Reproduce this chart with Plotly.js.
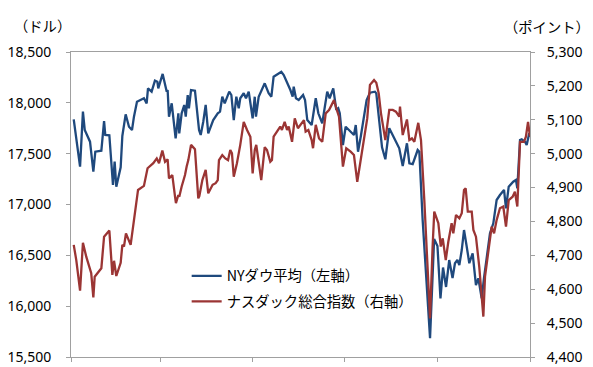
<!DOCTYPE html>
<html><head><meta charset="utf-8">
<script src="https://cdn.plot.ly/plotly-3.0.1.min.js"></script>
<style>html,body{margin:0;padding:0;background:#fff}#chart{width:593px;height:367px}</style>
</head><body><div id="chart"></div><script>
// Days elapsed since 2015-01-01 for each reading
const dowDays = [1.8,6.0,7.9,9.1,12.6,14.8,16.1,20.1,21.9,22.7,25.4,27.8,28.9,30.0,32.9,34.0,36.2,38.4,40.4,41.7,43.7,48.3,50.1,51.0,53.4,55.6,57.2,57.8,60.7,62.3,63.4,64.0,64.9,66.7,67.8,69.3,70.2,71.1,71.7,73.3,75.0,76.0,77.3,78.1,79.5,82.1,84.8,85.9,87.6,89.2,90.9,94.2,97.2,98.7,100.2,101.8,104.8,106.2,107.8,109.5,111.1,112.1,114.4,115.9,117.7,118.7,120.3,121.7,122.5,124.3,126.0,128.3,130.9,132.7,134.2,137.1,139.3,140.9,143.1,145.3,146.8,147.5,149.0,150.8,153.7,155.0,156.5,159.4,162.1,163.8,166.4,169.7,171.3,173.7,175.7,177.0,178.0,180.1,181.9,185.2,187.4,188.6,190.1,191.9,193.6,195.8,198.0,201.3,202.2,203.9,206.0,208.2,210.8,214.1,217.4,219.7,222.5,224.1,226.3,229.6,230.7,232.9,235.1,237.8,240.5,242.7,244.7,246.4,248.4,250.5,252.7,254.3,255.9,257.2,258.8,260.3,262.1,263.8,266.0,268.2,269.8,272.0,273.5,275.3,277.5,279.7,281.9,284.1,286.8,288.1,289.9,292.9,294.7,295.6,297.4,298.5,300.7,301.8,303.5,304.0];
const dowValues = [17838,17372,17913,17733,17618,17323,17519,17529,17821,17684,17681,17192,17421,17175,17366,17674,17887,17765,17733,17864,18011,18045,17995,18143,18110,18218,18208,18143,18284,18175,18110,18126,17864,17995,17831,17651,17765,17897,17700,17897,17979,17864,18077,17946,18126,18120,17733,17684,17814,17979,17700,17831,17897,17913,18060,17995,18110,18077,17831,18060,17946,18045,18094,18045,18110,18011,17848,18060,17864,18060,18110,18192,18094,18060,18257,18290,18306,18274,18208,18126,18060,18159,18045,18028,18077,18028,17831,17782,18045,17897,17799,18110,18045,18143,17930,17946,17897,17585,17765,17716,17684,17782,17519,17667,17831,18028,18100,18110,18093,17831,17563,17445,17750,17651,17553,17379,17602,17405,17398,17536,17519,16848,16290,15684,16661,16592,16077,16380,16189,16454,16277,16422,16454,16405,16552,16749,16585,16422,16520,16208,16274,16077,16274,16487,16717,16815,17044,17093,17143,16963,17175,17224,17241,17159,17634,17641,17618,17585,17700,17667];
const nasdaqDays = [1.8,3.5,6.0,7.9,10.1,12.6,13.4,14.8,15.7,20.1,21.9,25.4,27.4,28.5,30.0,32.9,34.0,35.1,36.4,39.5,41.7,44.4,48.3,50.7,54.5,56.8,58.3,60.5,62.3,64.0,64.9,67.1,68.9,69.5,71.1,71.7,73.3,75.5,76.6,77.7,79.5,82.1,84.3,85.0,87.0,89.2,90.9,93.8,95.8,97.2,98.0,100.2,102.2,104.0,105.5,106.6,107.8,109.9,112.1,114.4,116.6,118.8,120.3,121.7,122.7,124.3,126.0,128.3,129.8,132.0,133.1,134.2,136.4,138.6,139.7,141.5,143.1,144.2,146.4,148.2,150.3,154.3,155.4,157.2,159.4,160.3,162.1,164.3,166.4,168.7,170.9,172.7,174.2,175.7,177.5,180.1,182.3,185.2,187.4,189.6,191.9,194.1,196.2,198.0,200.7,202.2,203.8,205.3,208.2,210.8,213.1,215.2,217.4,217.9,219.7,222.5,224.1,225.8,227.4,230.0,231.8,234.0,236.2,237.8,239.5,240.6,243.3,244.9,246.2,248.2,249.9,252.1,253.2,255.0,257.2,258.8,260.3,261.4,262.8,265.4,266.5,268.2,270.4,273.1,274.2,276.4,278.6,280.2,281.9,284.1,286.3,288.1,289.9,292.5,294.0,295.6,297.4,300.0,301.3,302.7,304.0];
const nasdaqValues = [4731,4686,4596,4737,4696,4662,4647,4576,4637,4662,4755,4773,4642,4684,4639,4678,4731,4726,4765,4731,4799,4893,4905,4957,4972,4986,4972,5009,4976,4983,4927,4937,4873,4854,4878,4873,4903,4937,4962,4981,5026,5013,4868,4875,4922,4952,4883,4908,4913,4922,4981,4996,4986,4981,5011,5001,4932,4972,5026,5094,5070,5050,4942,5011,5026,4967,4922,5019,5011,4976,4981,5050,5065,5080,5070,5094,5070,5080,5035,5104,5075,5099,5065,5070,5040,5016,5085,5045,5035,5119,5129,5144,5158,5134,5109,4962,5016,5006,4996,4917,4981,5050,5104,5203,5217,5209,5178,5119,5040,5129,5129,5124,5109,5139,5055,5101,5040,5045,5035,5091,5040,4863,4657,4514,4726,4829,4795,4726,4750,4686,4740,4795,4765,4819,4809,4824,4893,4898,4829,4829,4775,4755,4666,4519,4637,4706,4785,4765,4804,4839,4844,4785,4863,4873,4888,4844,5035,5035,5050,5094,5050];
const seriesNames = ['NYダウ平均（左軸）', 'ナスダック総合指数（右軸）'];
const leftUnit = '（ドル）';
const rightUnit = '（ポイント）';
const startDate = '2015-01-01';
const endDate = '2015-11-01';

function toDate(d) {
  const t = Date.UTC(2015, 0, 1) + d * 86400000;
  return new Date(t).toISOString().slice(0, 19).replace('T', ' ');
}

const axisGray = '#A0A0A0';
const tickFont = {family: '"Noto Sans", "Noto Sans CJK JP", sans-serif', size: 14, color: '#000'};
const jpFont = {family: '"Noto Sans CJK JP", "Noto Sans", sans-serif', size: 14.3, color: '#000'};

const traces = [
  {x: dowDays.map(toDate), y: dowValues, name: seriesNames[0], type: 'scatter', mode: 'lines',
   line: {color: '#1F497D', width: 2.3}, yaxis: 'y', legendgroup: 'a'},
  {x: nasdaqDays.map(toDate), y: nasdaqValues, name: seriesNames[1], type: 'scatter', mode: 'lines',
   line: {color: '#9B3534', width: 2.3}, yaxis: 'y2', legendgroup: 'b'}
];

const layout = {
  width: 593, height: 367,
  margin: {l: 71, r: 63, t: 52, b: 10},
  paper_bgcolor: '#fff', plot_bgcolor: '#fff',
  font: jpFont,
  showlegend: true,
  legend: {x: 0.252, y: 0.318, xanchor: 'left', yanchor: 'top', bgcolor: 'rgba(0,0,0,0)',
           font: jpFont, tracegroupgap: 4, traceorder: 'grouped'},
  xaxis: {type: 'date', range: [startDate, endDate], tick0: startDate, dtick: 'M2',
          showticklabels: false, ticks: 'outside', ticklen: 4, tickcolor: axisGray,
          showgrid: false, zeroline: false, showline: true, linecolor: axisGray, linewidth: 1, mirror: true},
  yaxis: {range: [15500, 18500], dtick: 500, tickformat: ',d', tickfont: tickFont,
          ticks: 'outside', ticklen: 4, tickcolor: axisGray, ticklabelstandoff: 12,
          showgrid: false, zeroline: false, showline: true, linecolor: axisGray, linewidth: 1},
  yaxis2: {range: [4400, 5300], dtick: 100, tickformat: ',d', tickfont: tickFont, overlaying: 'y', side: 'right',
           ticks: 'outside', ticklen: 4, tickcolor: axisGray, ticklabelstandoff: 9,
           showgrid: false, zeroline: false, showline: true, linecolor: axisGray, linewidth: 1},
  annotations: [
    {text: leftUnit, xref: 'paper', yref: 'paper', x: -0.128, y: 1.087, xanchor: 'left', yanchor: 'middle',
     showarrow: false, font: jpFont},
    {text: rightUnit, xref: 'paper', yref: 'paper', x: 1.136, y: 1.083, xanchor: 'right', yanchor: 'middle',
     showarrow: false, font: jpFont}
  ]
};

Plotly.newPlot('chart', traces, layout, {staticPlot: true, displayModeBar: false});
</script></body></html>
